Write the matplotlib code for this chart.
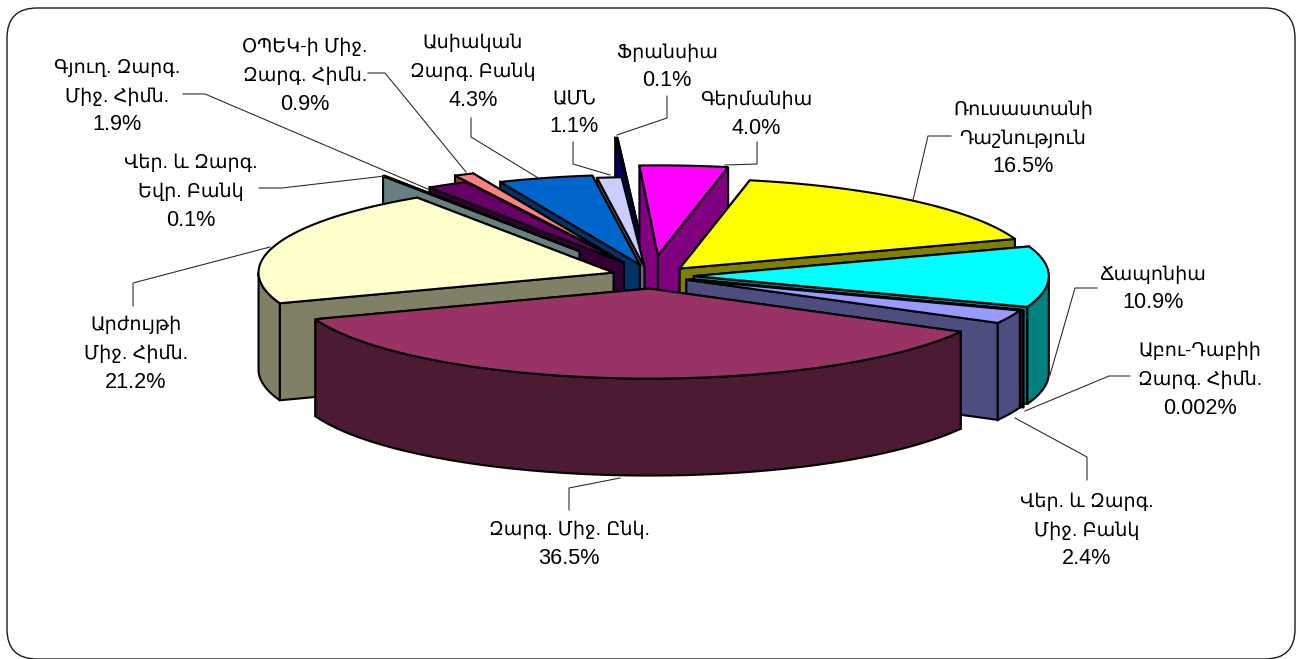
import numpy as np
import matplotlib
matplotlib.use('Agg')
import matplotlib.pyplot as plt
from matplotlib.patches import FancyBboxPatch, Polygon

plt.rcParams['font.family'] = ['Liberation Sans', 'DejaVu Sans']

# slices, clockwise from the top
names = ['Գերմանիա', 'Ռուսաստանի\nԴաշնություն', 'Ճապոնիա', 'Աբու-Դաբիի\nԶարգ. Հիմն.',
         'Վեր. և Զարգ.\nՄիջ. Բանկ', 'Զարգ. Միջ. Ընկ.', 'Արժույթի\nՄիջ. Հիմն.',
         'Վեր. և Զարգ.\nԵվր. Բանկ', 'Գյուղ. Զարգ.\nՄիջ. Հիմն.', 'ՕՊԵԿ-ի Միջ.\nԶարգ. Հիմն.',
         'Ասիական\nԶարգ. Բանկ', 'ԱՄՆ', 'Ֆրանսիա']
values = [4.0, 16.5, 10.9, 0.002, 2.4, 36.5, 21.2, 0.1, 1.9, 0.9, 4.3, 1.1, 0.1]
value_labels = ['4.0%', '16.5%', '10.9%', '0.002%', '2.4%', '36.5%', '21.2%',
                '0.1%', '1.9%', '0.9%', '4.3%', '1.1%', '0.1%']
explode = [0.23, 0.11, 0.115, 0.11, 0.10, 0.14, 0.12, 0.33, 0.17, 0.23, 0.13, 0.10, 0.54]
nudge = [(-2, 0), (0, 0), (-1, 0), (-1, 0), (0, 0), (-1, 0), (0, 0), (-10, 0), (0, 0),
         (-7, -1), (-2, 0), (-6, 0), (-4, 0)]
top_colors = ['#FF00FF', '#FFFF00', '#00FFFF', '#800080', '#9999FF', '#993366', '#FFFFCC',
              '#CCFFFF', '#660066', '#FF8080', '#0066CC', '#CCCCFF', '#000080']
side_colors = ['#800080', '#808000', '#008080', '#400040', '#4D4D80', '#4D1A33', '#808066',
               '#668080', '#330033', '#804040', '#003366', '#666680', '#00006A']

# first line centre of each label and leader line, in figure pixels
label_pos = [(756, 100), (1023, 110), (1153, 275), (1200, 351), (1087, 502), (569, 530),
             (136, 325), (191, 163), (117, 68), (305, 47), (473, 43), (574, 99), (667, 53)]
leaders = [[(725, 165), (757, 164), (757, 142)],
           [(913, 200), (928, 136), (951, 136)],
           [(1050, 375), (1075, 288), (1097, 288)],
           [(1025, 411), (1109, 376), (1130, 376)],
           [(1015, 418), (1087, 457), (1087, 480)],
           [(620, 478), (569, 488), (569, 510)],
           [(270, 247), (133, 283), (133, 306)],
           [(385, 176), (282, 188), (259, 188)],
           [(430, 190), (205, 94), (183, 94)],
           [(466, 172), (385, 73), (368, 73)],
           [(540, 179), (471, 137), (471, 118)],
           [(610, 175), (573, 164), (573, 142)],
           [(617, 135), (667, 118), (667, 96)]]

cx, cy = 654, 276
rx, ry = 355, 90
depth = 97
start = -3.0
line_gap = 29


def disc(angle, e, mid, shift):
    # clockwise degrees from the top, onto the tilted disc
    t, m = np.radians(angle), np.radians(mid)
    return (cx + shift[0] + rx * (np.sin(t) + e * np.sin(m)),
            cy + shift[1] - ry * (np.cos(t) + e * np.cos(m)))


fig = plt.figure(figsize=(13.02, 6.59), dpi=100)
ax = fig.add_axes([0, 0, 1, 1])
ax.set_xlim(0, 1302)
ax.set_ylim(659, 0)
ax.axis('off')

ax.add_patch(FancyBboxPatch((7, 8), 1288, 651, boxstyle='round,pad=0,rounding_size=30',
                            fc='white', ec='#1a1a1a', lw=1.0, zorder=0))

edges = np.cumsum([0] + values) / 100 * 360 + start
order = sorted(range(len(values)), key=lambda i: -np.cos(np.radians((edges[i] + edges[i + 1]) / 2)))
lw = 1.5

for z, i in enumerate(order):
    a0, a1 = edges[i], edges[i + 1]
    mid = (a0 + a1) / 2
    e, shift = explode[i], nudge[i]
    apex = (cx + shift[0] + rx * e * np.sin(np.radians(mid)),
            cy + shift[1] - ry * e * np.cos(np.radians(mid)))
    arc = [disc(a, e, mid, shift) for a in np.linspace(a0, a1, max(int(a1 - a0) * 2, 2))]
    zo = 2 + z
    # back wall first so it cannot show over the front one
    for p in sorted((arc[0], arc[-1]), key=lambda q: q[1]):
        wall = [apex, p, (p[0], p[1] + depth), (apex[0], apex[1] + depth)]
        ax.add_patch(Polygon(wall, fc=side_colors[i], ec='black', lw=lw, zorder=zo, joinstyle='miter'))
    # only the part of the rim that faces the viewer
    lo, hi = max(a0, 90), min(a1, 270)
    if hi > lo:
        rim = [disc(a, e, mid, shift) for a in np.linspace(lo, hi, max(int(hi - lo) * 2, 2))]
        low = [(x, y + depth) for x, y in rim][::-1]
        ax.add_patch(Polygon(rim + low, fc=side_colors[i], ec='black', lw=lw, zorder=zo))
    ax.add_patch(Polygon([apex] + arc, fc=top_colors[i], ec='black', lw=lw, zorder=zo, joinstyle='miter'))

for pts in leaders:
    xs, ys = zip(*pts)
    ax.plot(xs, ys, color='#222222', lw=0.75, zorder=50)

for i, (x, y) in enumerate(label_pos):
    rows = names[i].split('\n')
    for k, row in enumerate(rows):
        ax.text(x, y + k * line_gap, row, ha='center', va='center', fontsize=13.8, color='black', zorder=60)
    ax.text(x, y + len(rows) * line_gap - 1, value_labels[i], ha='center', va='center', fontsize=15.6,
            color='black', zorder=60)

fig.savefig('out.png', dpi=100)
